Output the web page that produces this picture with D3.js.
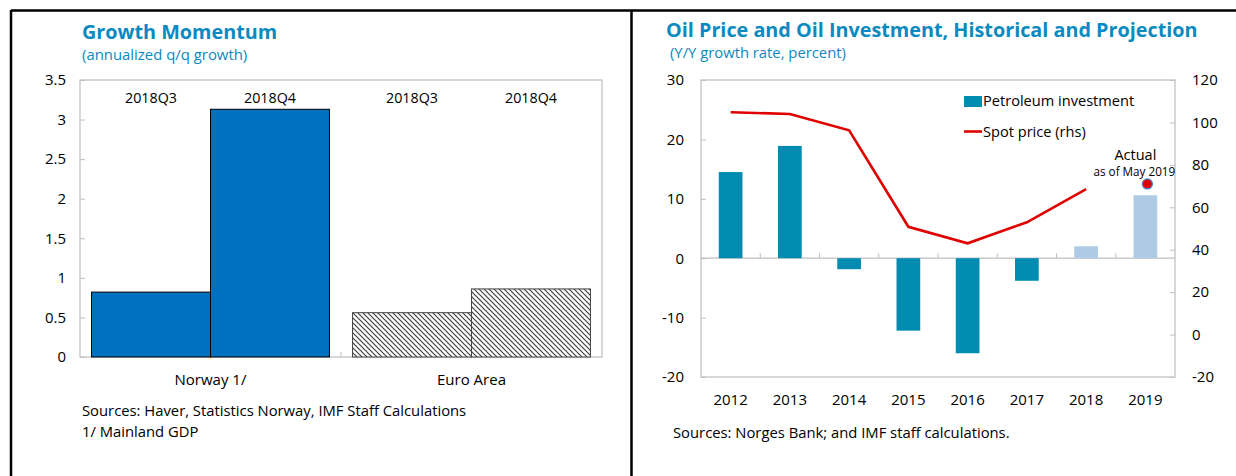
<!DOCTYPE html>
<html><head><meta charset="utf-8">
<script src="https://cdn.jsdelivr.net/npm/d3@7/dist/d3.min.js"></script>
<style>
html,body{margin:0;padding:0;background:#fff;}
svg{display:block;}
text{font-family:"Open Sans","Noto Sans",sans-serif;}
</style></head>
<body>
<script>
// ---------- Data: left chart ----------
const groups = ["Norway 1/", "Euro Area"];
const quarters = ["2018Q3", "2018Q4"];
const norwayGrowth = [0.82, 3.13];
const euroGrowth = [0.56, 0.86];
const leftTicks = [0, 0.5, 1, 1.5, 2, 2.5, 3, 3.5];

// ---------- Data: right chart ----------
const years = ["2012","2013","2014","2015","2016","2017","2018","2019"];
const petroInvest = [14.5, 18.9, -1.85, -12.2, -16.0, -3.8, 2.0, 10.6];
const isProjection = [false, false, false, false, false, false, true, true];
const spotYears = ["2012","2013","2014","2015","2016","2017","2018"];
const spotPrice = [104.8, 104.0, 96.3, 50.8, 43.0, 52.9, 68.6];
const actualYear = "2019";
const actualPrice = 71;
const leftTicksR = [-20, -10, 0, 10, 20, 30];
const rightTicksR = [-20, 0, 20, 40, 60, 80, 100, 120];

const W = 1236, H = 476;
const svg = d3.select("body").append("svg").attr("width", W).attr("height", H);
const blue = "#0a8ac0";
const gray = "#bfbfbf";
const FS = 15;

// hatch pattern
const defs = svg.append("defs");
const pat = defs.append("pattern").attr("id","hatch").attr("patternUnits","userSpaceOnUse")
  .attr("width",5).attr("height",5);
pat.append("rect").attr("width",5).attr("height",5).attr("fill","#fff");
pat.append("path").attr("d","M-1,-1 L6,6 M-1,4 L1,6 M4,-1 L6,1")
  .attr("stroke","#404040").attr("stroke-width",1.2);

// frame
svg.append("line").attr("x1",11).attr("x2",W).attr("y1",10.5).attr("y2",10.5).attr("stroke","#000").attr("stroke-width",2.5);
svg.append("line").attr("x1",11).attr("x2",11).attr("y1",10).attr("y2",H).attr("stroke","#000").attr("stroke-width",2.5);
svg.append("line").attr("x1",631.5).attr("x2",631.5).attr("y1",10).attr("y2",H).attr("stroke","#000").attr("stroke-width",2.5);

// ================= LEFT CHART =================
{
  const L = {x0:80, x1:602, y0:80, y1:357};
  const g = svg.append("g");
  g.append("text").attr("x",82).attr("y",39).attr("fill",blue).attr("font-size",19.8).attr("font-weight",700).text("Growth Momentum");
  g.append("text").attr("x",82).attr("y",60).attr("fill",blue).attr("font-size",14.9).text("(annualized q/q growth)");

  const x0 = d3.scaleBand().domain(groups).range([L.x0, L.x1]).padding(0);
  const x1 = d3.scaleBand().domain(quarters).range([0, x0.bandwidth()]).paddingInner(0).paddingOuter(0.097);
  const y = d3.scaleLinear().domain([0, 3.5]).range([L.y1, L.y0]);

  g.append("rect").attr("x",L.x0).attr("y",L.y0).attr("width",L.x1-L.x0).attr("height",L.y1-L.y0)
    .attr("fill","none").attr("stroke",gray).attr("stroke-width",1.2);

  const ya = g.append("g").attr("transform",`translate(${L.x0},0)`)
    .call(d3.axisLeft(y).tickValues(leftTicks).tickSize(-5).tickPadding(14).tickFormat(d=>String(d)));
  ya.select(".domain").remove();
  ya.selectAll(".tick line").attr("stroke",gray);
  ya.selectAll(".tick text").attr("font-size",FS).attr("fill","#000").attr("font-family",'"Open Sans",sans-serif');

  const xa = g.append("g").attr("transform",`translate(0,${L.y1})`)
    .call(d3.axisBottom(x0).tickSize(0).tickPadding(17));
  xa.select(".domain").remove();
  xa.selectAll(".tick text").attr("font-size",FS).attr("fill","#000").attr("font-family",'"Open Sans",sans-serif');
  g.append("line").attr("x1",x0("Euro Area")).attr("x2",x0("Euro Area")).attr("y1",L.y1).attr("y2",L.y1-5).attr("stroke",gray);

  const series = [norwayGrowth, euroGrowth];
  groups.forEach((grp, gi) => {
    quarters.forEach((q, qi) => {
      const v = series[gi][qi];
      const bx = x0(grp) + x1(q);
      g.append("rect").attr("x",bx).attr("y",y(v)).attr("width",x1.bandwidth()).attr("height",y(0)-y(v))
        .attr("fill", gi===0 ? "#0070c0" : "url(#hatch)").attr("stroke", gi===0 ? "#000" : "#444").attr("stroke-width",1);
      g.append("text").attr("x",bx + x1.bandwidth()/2).attr("y",103).attr("text-anchor","middle")
        .attr("font-size",14.3).attr("fill","#000").text(q);
    });
  });

  g.append("text").attr("x",82).attr("y",416).attr("font-size",14.8).attr("fill","#000").text("Sources: Haver, Statistics Norway, IMF Staff Calculations");
  g.append("text").attr("x",82).attr("y",437).attr("font-size",14.8).attr("fill","#000").text("1/ Mainland GDP");
}

// ================= RIGHT CHART =================
{
  const R = {x0:701, x1:1175, y0:80, y1:377};
  const g = svg.append("g");
  g.append("text").attr("x",666).attr("y",37).attr("fill",blue).attr("font-size",19.8).attr("font-weight",700).text("Oil Price and Oil Investment, Historical and Projection");
  g.append("text").attr("x",670).attr("y",58).attr("fill",blue).attr("font-size",14.8).text("(Y/Y growth rate, percent)");

  const x = d3.scaleBand().domain(years).range([R.x0, R.x1]).paddingInner(0.6).paddingOuter(0.3);
  const yL = d3.scaleLinear().domain([-20, 30]).range([R.y1, R.y0]);
  const yR = d3.scaleLinear().domain([-20, 120]).range([R.y1, R.y0]);
  const step = x.step();

  g.append("rect").attr("x",R.x0).attr("y",R.y0).attr("width",R.x1-R.x0).attr("height",R.y1-R.y0)
    .attr("fill","none").attr("stroke",gray).attr("stroke-width",1.2);

  const ya = g.append("g").attr("transform",`translate(${R.x0},0)`)
    .call(d3.axisLeft(yL).tickValues(leftTicksR).tickSize(-5).tickPadding(17).tickFormat(d=>String(d)));
  ya.select(".domain").remove();
  ya.selectAll(".tick line").attr("stroke",gray);
  ya.selectAll(".tick text").attr("font-size",FS).attr("fill","#000").attr("font-family",'"Open Sans",sans-serif');

  const yr = g.append("g").attr("transform",`translate(${R.x1},0)`)
    .call(d3.axisRight(yR).tickValues(rightTicksR).tickSize(-5).tickPadding(17).tickFormat(d=>String(d)));
  yr.select(".domain").remove();
  yr.selectAll(".tick line").attr("stroke",gray);
  yr.selectAll(".tick text").attr("font-size",FS).attr("fill","#000").attr("font-family",'"Open Sans",sans-serif');

  g.append("line").attr("x1",R.x0).attr("x2",R.x1).attr("y1",yL(0)).attr("y2",yL(0)).attr("stroke",gray).attr("stroke-width",1.2);
  years.slice(1).forEach(yv => {
    const bx = x(yv) - x.paddingInner()*step/2;
    g.append("line").attr("x1",bx).attr("x2",bx).attr("y1",yL(0)).attr("y2",yL(0)-5).attr("stroke",gray);
  });

  g.selectAll("rect.bar").data(years).enter().append("rect").attr("class","bar")
    .attr("x", d => x(d)).attr("width", x.bandwidth())
    .attr("y", (d,i) => yL(Math.max(0, petroInvest[i])))
    .attr("height", (d,i) => Math.abs(yL(petroInvest[i]) - yL(0)))
    .attr("fill", (d,i) => isProjection[i] ? "#aecbe5" : "#008bb0");

  const line = d3.line().x((d,i) => x(spotYears[i]) + x.bandwidth()/2).y(d => yR(d));
  g.append("path").datum(spotPrice).attr("d", line).attr("fill","none").attr("stroke","#e00000").attr("stroke-width",2.6);

  const ax = x(actualYear) + x.bandwidth()/2 + 2;
  g.append("circle").attr("cx", ax).attr("cy", yR(actualPrice)).attr("r",5)
    .attr("fill","#e00000").attr("stroke","#4a7fc8").attr("stroke-width",1.3);
  g.append("text").attr("x", ax-12).attr("y",160).attr("text-anchor","middle").attr("font-size",14.5).attr("fill","#000").text("Actual");
  g.append("text").attr("x", ax-13).attr("y",176).attr("text-anchor","middle").attr("font-size",11.7).attr("fill","#000").text("as of May 2019");

  years.forEach(yv => {
    g.append("text").attr("x", x(yv)+x.bandwidth()/2).attr("y",405).attr("text-anchor","middle")
      .attr("font-size",FS).attr("fill","#000").text(yv);
  });

  g.append("rect").attr("x",964).attr("y",96).attr("width",18).attr("height",11).attr("fill","#008bb0");
  g.append("text").attr("x",983).attr("y",106).attr("font-size",14.6).attr("fill","#000").text("Petroleum investment");
  g.append("line").attr("x1",964).attr("x2",982).attr("y1",131.5).attr("y2",131.5).attr("stroke","#e00000").attr("stroke-width",2.6);
  g.append("text").attr("x",983).attr("y",137).attr("font-size",14.6).attr("fill","#000").text("Spot price (rhs)");

  g.append("text").attr("x",673).attr("y",438).attr("font-size",14.8).attr("fill","#000").text("Sources: Norges Bank; and IMF staff calculations.");
}
</script>
</body></html>
